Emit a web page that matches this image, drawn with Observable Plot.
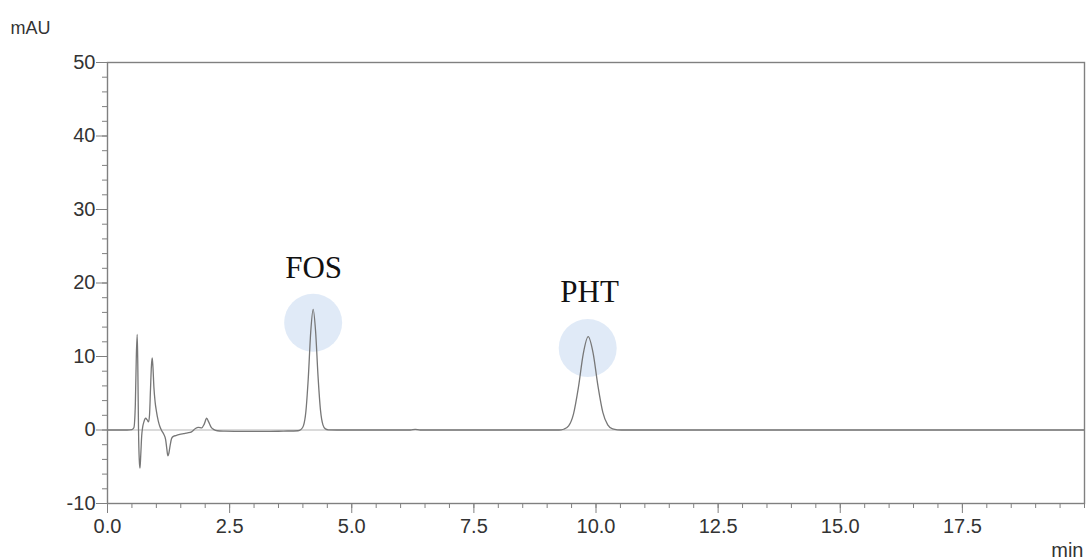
<!DOCTYPE html>
<html>
<head>
<meta charset="utf-8">
<script src="https://cdn.jsdelivr.net/npm/d3@7"></script>
<script src="https://cdn.jsdelivr.net/npm/@observablehq/plot@0.6"></script>
<style>
  html, body { margin: 0; padding: 0; background: #fff; }
</style>
</head>
<body>
<div id="chart"></div>
<script>
const time = [0.00,0.40,0.50,0.54,0.57,0.59,0.608,0.62,0.635,0.65,0.665,0.68,0.70,0.72,0.745,0.78,0.81,0.84,0.86,0.88,0.90,0.915,0.93,0.95,0.975,1.00,1.04,1.07,1.11,1.15,1.19,1.215,1.235,1.255,1.28,1.31,1.34,1.40,1.48,1.56,1.64,1.72,1.80,1.86,1.93,1.98,2.03,2.07,2.12,2.18,2.25,2.40,2.80,3.20,3.60,3.90,3.96,4.01,4.06,4.11,4.16,4.21,4.26,4.31,4.36,4.41,4.46,4.52,4.70,5.5,6.2,6.3,6.4,8.5,9.2,9.29,9.34,9.44,9.54,9.64,9.74,9.84,9.94,10.04,10.14,10.24,10.34,10.44,10.6,20];
const absorbance = [0,0,0.05,0.3,3.5,10,13.0,9,0,-4,-5.2,-3.5,-0.8,0.4,1.1,1.6,1.4,1.1,2.0,5.5,8.8,9.8,8.6,5.8,3.8,2.6,1.2,0.5,-0.1,-0.55,-1.3,-2.6,-3.5,-3.2,-2.2,-1.2,-0.9,-0.75,-0.6,-0.5,-0.4,-0.25,0.2,0.35,0.3,0.8,1.6,1.1,0.4,0.05,-0.1,-0.15,-0.2,-0.2,-0.15,-0.1,0.08,0.56,2.45,7.05,13.3,16.4,13.4,7.3,2.7,0.7,0.15,0.02,0,0,0,0.08,0,0,0,0.03,0.1,0.56,2.2,5.8,10.4,12.7,10.5,6.0,2.4,0.7,0.15,0.03,0,0];

const peakNames = ["FOS", "PHT"];
const peakTime = [4.21, 9.83];
const peakCircleY = [14.6, 11.15];
const labelX = [4.22, 9.87];
const labelY = [20.7, 17.4];

const xMajor = [0, 2.5, 5, 7.5, 10, 12.5, 15, 17.5];
const xMinor = d3.range(0, 20.001, 0.5);
const yMajor = [-10, 0, 10, 20, 30, 40, 50];
const yMinor = d3.range(-10, 50.001, 2);

const series = time.map((t, i) => ({t, v: absorbance[i]}));
const peaks = peakNames.map((n, i) => ({n, t: peakTime[i], y: peakCircleY[i], lx: labelX[i], ly: labelY[i]}));

const axisColor = "#808080";

const chart = Plot.plot({
  width: 1086,
  height: 560,
  marginLeft: 107,
  marginRight: 2,
  marginTop: 62,
  marginBottom: 57,
  style: {fontFamily: "'Liberation Sans', Arial, sans-serif", fontSize: "19px", color: "#333", background: "#fff"},
  x: {domain: [0, 20]},
  y: {domain: [-10, 50]},
  marks: [
    Plot.dot(peaks, {x: "t", y: "y", r: 29, fill: "#d6e3f4", fillOpacity: 0.75, stroke: "none"}),
    Plot.ruleY([0], {stroke: "#b5b5b5", strokeWidth: 1}),
    Plot.line(series, {x: "t", y: "v", stroke: "#777", strokeWidth: 1.3, curve: "monotone-x"}),
    Plot.text(peaks, {x: "lx", y: "ly", text: "n", lineAnchor: "bottom", textAnchor: "middle", fontFamily: "'Liberation Serif', 'Times New Roman', serif", fontSize: 31, fill: "#111"}),
    Plot.axisY({ticks: yMinor, tickSize: 5, text: null, stroke: axisColor}),
    Plot.axisY({ticks: yMajor, tickSize: 11, tickPadding: 1, tickFormat: d => String(d), fontSize: 20, stroke: axisColor, fill: "#333", label: null}),
    Plot.axisX({ticks: xMinor, tickSize: 5, text: null, stroke: axisColor}),
    Plot.axisX({ticks: xMajor, tickSize: 10, tickPadding: 5, tickFormat: d => d.toFixed(1), fontSize: 20, stroke: axisColor, fill: "#333", label: null}),
    Plot.frame({stroke: axisColor, strokeWidth: 1.4}),
    Plot.text(["mAU"], {frameAnchor: "top-left", textAnchor: "start", lineAnchor: "bottom", dx: -97, dy: -29, fontSize: 18, fill: "#333"}),
    Plot.text(["min"], {frameAnchor: "bottom-right", textAnchor: "end", lineAnchor: "bottom", dx: -1, dy: 53, fontSize: 20, fill: "#333"})
  ]
});
document.getElementById("chart").appendChild(chart);
</script>
</body>
</html>
